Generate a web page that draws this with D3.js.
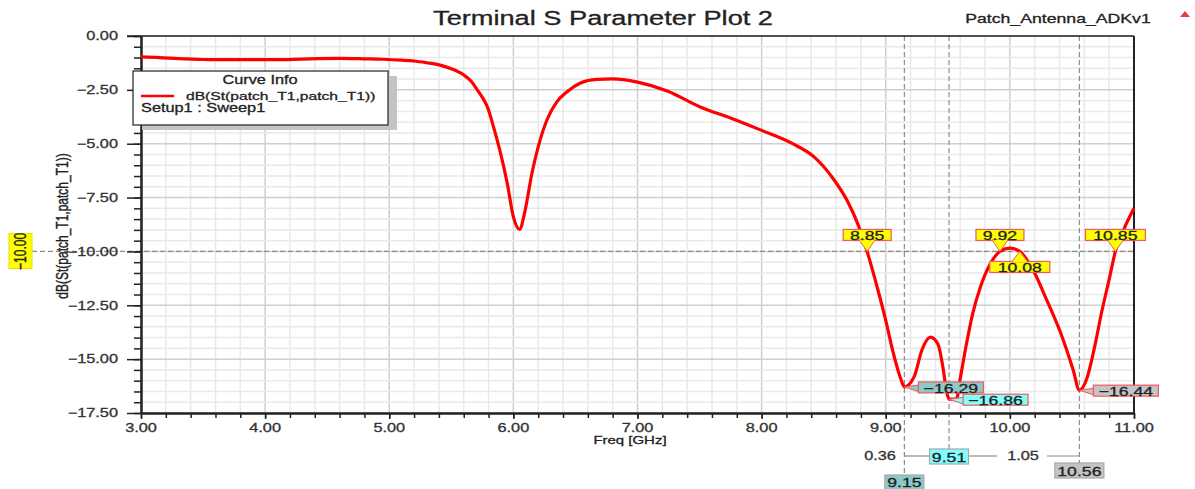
<!DOCTYPE html>
<html>
<head>
<meta charset="utf-8">
<script src="https://cdn.jsdelivr.net/npm/d3@7"></script>
<style>
  html, body { margin: 0; padding: 0; background: #ffffff; }
  svg { display: block; }
  text { font-family: "Liberation Sans", Arial, sans-serif; }
</style>
</head>
<body>
<svg id="chart" width="1195" height="489"></svg>
<script>
// ---- data ----
const freqGHz = [3.00, 3.15, 3.30, 3.50, 3.80, 4.10, 4.30, 4.60, 4.80, 4.95,
  5.10, 5.20, 5.30, 5.41, 5.50, 5.60, 5.66, 5.71, 5.75, 5.79, 5.84, 5.89, 5.95,
  6.00, 6.05, 6.09, 6.15, 6.20, 6.27, 6.35, 6.43, 6.54, 6.67, 6.80, 7.00, 7.24,
  7.50, 7.77, 8.00, 8.25, 8.42, 8.58, 8.69, 8.78, 8.85, 8.93, 9.00, 9.06, 9.12,
  9.15, 9.23, 9.29, 9.36, 9.42, 9.46, 9.49, 9.51, 9.57, 9.60, 9.65, 9.70, 9.76,
  9.84, 9.92, 10.00, 10.08, 10.19, 10.30, 10.41, 10.51, 10.56, 10.62, 10.68,
  10.74, 10.80, 10.85, 10.92, 11.00];
const s11dB = [-0.97, -1.00, -1.05, -1.09, -1.10, -1.10, -1.07, -1.04, -1.06, -1.08,
  -1.12, -1.16, -1.24, -1.35, -1.52, -1.81, -2.10, -2.51, -2.85, -3.28, -4.22, -5.29, -6.82,
  -8.40, -8.98, -8.22, -6.36, -5.15, -3.90, -3.06, -2.60, -2.18, -2.01, -1.99, -2.14, -2.55,
  -3.28, -3.85, -4.38, -5.00, -5.60, -6.65, -7.65, -8.80, -10.00, -11.64, -13.20, -14.70, -15.90,
  -16.29, -15.80, -14.60, -13.98, -14.30, -15.35, -16.50, -16.86, -16.84, -15.90, -14.30, -12.90, -11.70,
  -10.60, -10.00, -9.85, -10.00, -10.90, -12.30, -13.80, -15.50, -16.44, -15.90, -14.50,
  -12.80, -11.30, -10.00, -8.95, -8.00];

const xTicks = [3, 4, 5, 6, 7, 8, 9, 10, 11];
const yTicks = [0, -2.5, -5, -7.5, -10, -12.5, -15, -17.5];

const refLevel = -10;
const crossFreqs = [8.85, 9.92, 10.08, 10.85];
const minFreqs = [9.15, 9.51, 10.56];
const minValues = [-16.29, -16.86, -16.44];

const titleText = "Terminal S Parameter Plot 2";
const projectText = "Patch_Antenna_ADKv1";
const yLabelText = "dB(St(patch_T1,patch_T1))";
const xLabelText = "Freq [GHz]";
const legendTitle = "Curve Info";
const legendCurve = "dB(St(patch_T1,patch_T1))";
const legendSetup = "Setup1 : Sweep1";

// ---- layout ----
const SX = 1.36;               // horizontal glyph stretch used for all labels
const svg = d3.select("#chart");
const x = d3.scaleLinear().domain([3, 11]).range([141, 1134]);
const y = d3.scaleLinear().domain([0, -17.5]).range([36, 413]);
const fmt2 = d3.format(".2f");

function label(parent, px, py, str, o = {}) {
  const g = parent.append("g")
    .attr("transform", `translate(${px},${py}) ${o.rotate ? "rotate(-90) scale(1," + SX + ")" : "scale(" + SX + ",1)"}`);
  const fill = o.fill || "#333";
  return g.append("text")
    .attr("x", 0).attr("y", 0)
    .attr("dy", "0.36em")
    .attr("text-anchor", o.anchor || "middle")
    .attr("font-size", (o.size || 12) + "px")
    .attr("fill", fill)
    .attr("stroke", fill)
    .attr("stroke-width", o.heavy === false ? 0 : 0.3)
    .text(str);
}

// ---- grid ----
const grid = svg.append("g");
const minorX = d3.range(3, 11.0001, 0.2);
const minorY = d3.range(0, -17.5001, -0.5);
grid.selectAll(".gx").data(minorX).join("line")
  .attr("x1", d => x(d)).attr("x2", d => x(d)).attr("y1", y(0)).attr("y2", y(-17.5))
  .attr("stroke", d => Math.abs(d - Math.round(d)) < 1e-6 ? "#cfcfcf" : "#e9e9e9")
  .attr("stroke-width", 1.5);
grid.selectAll(".gy").data(minorY).join("line")
  .attr("x1", x(3)).attr("x2", x(11)).attr("y1", d => y(d)).attr("y2", d => y(d))
  .attr("stroke", d => Math.abs(d / 2.5 - Math.round(d / 2.5)) < 1e-6 ? "#cfcfcf" : "#e9e9e9")
  .attr("stroke-width", 1.5);

// ---- reference level line at -10 dB ----
svg.append("line")
  .attr("x1", 32).attr("x2", x(11)).attr("y1", y(refLevel)).attr("y2", y(refLevel))
  .attr("stroke", "#8c8c8c").attr("stroke-width", 1.2).attr("stroke-dasharray", "5,3");

// ---- vertical marker lines ----
const vEnds = [475, 449, 463];
svg.selectAll(".vm").data(minFreqs).join("line")
  .attr("x1", d => x(d)).attr("x2", d => x(d))
  .attr("y1", y(0)).attr("y2", (d, i) => vEnds[i])
  .attr("stroke", "#8c8c8c").attr("stroke-width", 1.2).attr("stroke-dasharray", "5,3");

// ---- axes ----
const axY = svg.append("g").attr("transform", `translate(${x(3)},0)`)
  .call(d3.axisLeft(y).tickValues(yTicks).tickFormat(() => "").tickSize(14).tickSizeOuter(0));
const axYm = svg.append("g").attr("transform", `translate(${x(3)},0)`)
  .call(d3.axisLeft(y).tickValues(minorY).tickFormat(() => "").tickSize(7).tickSizeOuter(0));
const axX = svg.append("g").attr("transform", `translate(0,${y(-17.5)})`)
  .call(d3.axisBottom(x).tickValues(xTicks).tickFormat(() => "").tickSize(6).tickSizeOuter(0));
const axXm = svg.append("g").attr("transform", `translate(0,${y(-17.5)})`)
  .call(d3.axisBottom(x).tickValues(minorX).tickFormat(() => "").tickSize(5).tickSizeOuter(0));
[axY, axYm, axX, axXm].forEach(a => {
  a.select(".domain").attr("stroke", "#222").attr("stroke-width", 2);
  a.selectAll(".tick line").attr("stroke", "#222").attr("stroke-width", 1.5);
});
// frame top and right
svg.append("line").attr("x1", 127).attr("x2", x(11)).attr("y1", y(0)).attr("y2", y(0))
  .attr("stroke", "#222").attr("stroke-width", 1.5);
svg.append("line").attr("x1", x(11)).attr("x2", x(11)).attr("y1", y(0)).attr("y2", y(-17.5))
  .attr("stroke", "#222").attr("stroke-width", 2);

// tick labels
yTicks.forEach(v => label(svg, 118, y(v), fmt2(v), { anchor: "end", size: 12 }));
xTicks.forEach(v => label(svg, x(v), 428, fmt2(v), { size: 12 }));

// ---- curve ----
const pts = freqGHz.map((f, i) => [f, s11dB[i]]);
svg.append("path")
  .datum(pts)
  .attr("fill", "none")
  .attr("stroke", "#ff0000")
  .attr("stroke-width", 3.2)
  .attr("stroke-linejoin", "round")
  .attr("d", d3.line().x(d => x(d[0])).y(d => y(d[1])).curve(d3.curveMonotoneX));

// ---- titles ----
label(svg, 603, 18, titleText, { size: 20, fill: "#222" });
label(svg, 1058, 18, projectText, { size: 13, fill: "#222" });
svg.append("path").attr("d", "M1180,17 L1185,11 L1190,17 Z").attr("fill", "#e04040");
label(svg, 62, 226, yLabelText, { size: 12, rotate: true, fill: "#222" });
label(svg, 630, 440, xLabelText, { size: 11, fill: "#222" });

// reference-level tag on the y axis
svg.append("rect").attr("x", 9).attr("y", y(refLevel) - 18).attr("width", 23).attr("height", 35)
  .attr("fill", "#ffff00").attr("stroke", "#e0e000");
label(svg, 20.5, y(refLevel), fmt2(refLevel), { size: 12, rotate: true, fill: "#222" });

// ---- legend ----
const lg = svg.append("g");
lg.append("rect").attr("x", 142).attr("y", 76).attr("width", 255).attr("height", 54).attr("fill", "#c4c4c4");
lg.append("rect").attr("x", 133).attr("y", 71).attr("width", 255).attr("height", 54)
  .attr("fill", "#fff").attr("stroke", "#222").attr("stroke-width", 1.2);
label(lg, 260, 80, legendTitle, { size: 12, fill: "#222" });
lg.append("line").attr("x1", 141).attr("x2", 174).attr("y1", 96).attr("y2", 96)
  .attr("stroke", "#ff0000").attr("stroke-width", 2.5);
label(lg, 186, 96, legendCurve, { size: 11.5, anchor: "start", fill: "#222" });
label(lg, 141, 108, legendSetup, { size: 12, anchor: "start", fill: "#222" });

// ---- -10 dB crossing markers ----
const markBorder = "#f05a5a";
crossFreqs.forEach((f, i) => {
  const below = i === 2;
  const mx = x(f), my = y(refLevel);
  const txt = fmt2(f);
  const w = txt.length > 4 ? 60 : 48, h = 11;
  const top = below ? my + 10 : my - 22;
  const tri = below
    ? `M${mx},${my} L${mx - 8},${top + 0.5} L${mx + 8},${top + 0.5} Z`
    : `M${mx},${my} L${mx - 8},${top + h - 0.5} L${mx + 8},${top + h - 0.5} Z`;
  svg.append("rect").attr("x", mx - w / 2).attr("y", top).attr("width", w).attr("height", h)
    .attr("fill", "#ffff00").attr("stroke", markBorder).attr("stroke-width", 1.2);
  svg.append("path").attr("d", tri).attr("fill", "#ffff00").attr("stroke", markBorder).attr("stroke-width", 1);
  // cover the seam between box and pointer
  svg.append("line").attr("x1", mx - 7).attr("x2", mx + 7)
    .attr("y1", below ? top : top + h).attr("y2", below ? top : top + h)
    .attr("stroke", "#ffff00").attr("stroke-width", 1.5);
  label(svg, mx, top + h / 2 + 0.5, txt, { size: 13, fill: "#222" });
});

// ---- minimum markers ----
const minFills = ["#8ccaca", "#80ffff", "#c4c4c4"];
minFreqs.forEach((f, i) => {
  const mx = x(f), my = y(minValues[i]);
  const txt = fmt2(minValues[i]);
  const bx = mx + 14, bw = 65, bh = 11, by = my - 5;
  svg.append("path")
    .attr("d", `M${mx},${my} L${bx + 1},${by + 3} L${bx + 1},${by + bh - 1} Z`)
    .attr("fill", minFills[i]).attr("stroke", markBorder).attr("stroke-width", 1);
  svg.append("rect").attr("x", bx).attr("y", by).attr("width", bw).attr("height", bh)
    .attr("fill", minFills[i]).attr("stroke", markBorder).attr("stroke-width", 1.2);
  label(svg, bx + bw / 2, by + bh / 2 + 0.5, txt, { size: 13, fill: "#222" });
});

// ---- frequency read-outs and deltas below the axis ----
const rowY = 456;
const tagTops = [475, 449, 463];
svg.append("line").attr("x1", x(minFreqs[0])).attr("x2", x(minFreqs[1]) - 19)
  .attr("y1", rowY).attr("y2", rowY).attr("stroke", "#8c8c8c").attr("stroke-width", 1.2);
svg.append("line").attr("x1", x(minFreqs[1]) + 20).attr("x2", 997)
  .attr("y1", rowY).attr("y2", rowY).attr("stroke", "#8c8c8c").attr("stroke-width", 1.2);
svg.append("line").attr("x1", 1047).attr("x2", x(minFreqs[2]))
  .attr("y1", rowY).attr("y2", rowY).attr("stroke", "#8c8c8c").attr("stroke-width", 1.2);
label(svg, 880, rowY, fmt2(minFreqs[1] - minFreqs[0]), { size: 12 });
label(svg, 1023, rowY, fmt2(minFreqs[2] - minFreqs[1]), { size: 12 });

minFreqs.forEach((f, i) => {
  const txt = fmt2(f);
  const w = txt.length > 4 ? 49 : 39;
  const cx = x(f), top = tagTops[i];
  svg.append("rect").attr("x", cx - w / 2).attr("y", top).attr("width", w).attr("height", 15)
    .attr("fill", minFills[i]).attr("stroke", "#a8a8a8").attr("stroke-width", 1.2);
  label(svg, cx, top + (i === 0 ? 7 : 8), txt, { size: 13, fill: "#222" });
});
</script>
</body>
</html>
